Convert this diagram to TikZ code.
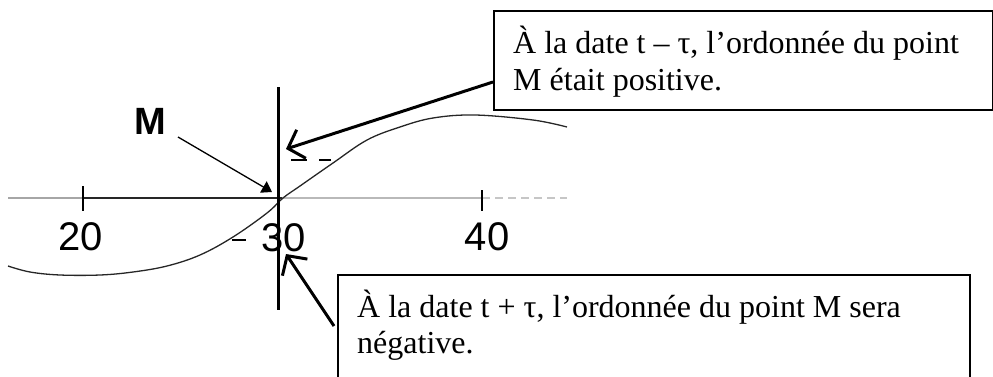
\documentclass[tikz,border=0pt]{standalone}
\usepackage{fontspec}
\setmainfont{Liberation Serif}
\newfontfamily\lsans{Liberation Sans}
\usetikzlibrary{arrows.meta}
\begin{document}
\begin{tikzpicture}[x=1pt,y=-1pt,
  callout/.style={draw=black,line width=2pt,inner sep=0pt,anchor=north west},
  btxt/.style={anchor=base west,inner sep=0pt,font=\fontsize{32}{37}\selectfont},
  axlabel/.style={inner sep=0pt,font=\lsans\fontsize{40}{40}\selectfont},
  bigarrow/.style={line width=3pt,-{Straight Barb[length=14pt,width=30pt,line width=3pt]}},
  curve/.style={line width=1.3pt,black!85},
  mark dash/.style={line width=2pt},
]
\useasboundingbox (0,0) rectangle (993,376);

% callout boxes
\node[callout,minimum width=499pt,minimum height=99pt] (topbox) at (493,10) {};
\node[callout,minimum width=632pt,minimum height=120pt] (botbox) at (337,274) {};

\node[btxt] (t1) at (513,53) {À la date t – τ, l’ordonnée du point};
\node[btxt] (t2) at (513,90) {M était positive.};
\node[btxt] (b1) at (357,317) {À la date t + τ, l’ordonnée du point M sera};
\node[btxt] (b2) at (357,353) {négative.};

% axis
\coordinate (axL) at (8,198);
\coordinate (x20) at (83,198);
\coordinate (x30) at (282,198);
\coordinate (x40) at (482,198);
\coordinate (axR) at (567,198);
\draw[gray!70,line width=1.5pt] (axL) -- (x20);
\draw[black!85,line width=1.5pt] (x20) -- (x30);
\draw[gray!55,line width=1.2pt] (x30) -- (x40);
\draw[gray!45,line width=1.2pt,dash pattern=on 8pt off 5pt] (x40) -- (axR);
\draw[line width=1.2pt] (83,186) -- (83,211);
\draw[line width=1.2pt] (482,190) -- (482,211);

\node[axlabel] (l20) at (81,237) {20};
\node[axlabel] (l30) at (284,238) {30};
\node[axlabel] (l40) at (487,237) {40};

% curve
\draw[curve] plot[smooth,tension=0.6] coordinates {
  (8,266) (30,272) (60,275) (100,275) (133,272) (167,266) (200,255)
  (233,237) (267,213) (283,198) (300,186) (333,163) (367,140) (400,127)
  (433,118) (475,115) (533,120) (567,127)};

% small dashes
\draw[mark dash] (291,160) -- (307,160);
\draw[mark dash] (319,160) -- (331,160);
\draw[mark dash] (232,240) -- (246,240);

% vertical line
\coordinate (vtop) at (278,87);
\coordinate (vbot) at (278,310);
\draw[line width=3pt] (vtop) -- (vbot);

% M label and arrow
\node[inner sep=0pt,font=\lsans\bfseries\fontsize{38}{38}\selectfont] (M) at (150,121) {M};
\coordinate (ms) at (178,137);
\coordinate (pt) at (272,192);
\draw[line width=1.3pt,-{Triangle[length=10pt,width=13pt]}] (ms) -- (pt);

% callout arrows
\coordinate (a1s) at (493,82);
\coordinate (a1e) at (286,149);
\draw[bigarrow] (a1s) -- (a1e);
\coordinate (a2s) at (334,326);
\coordinate (a2e) at (286,254);
\draw[bigarrow] (a2s) -- (a2e);
\end{tikzpicture}
\end{document}
